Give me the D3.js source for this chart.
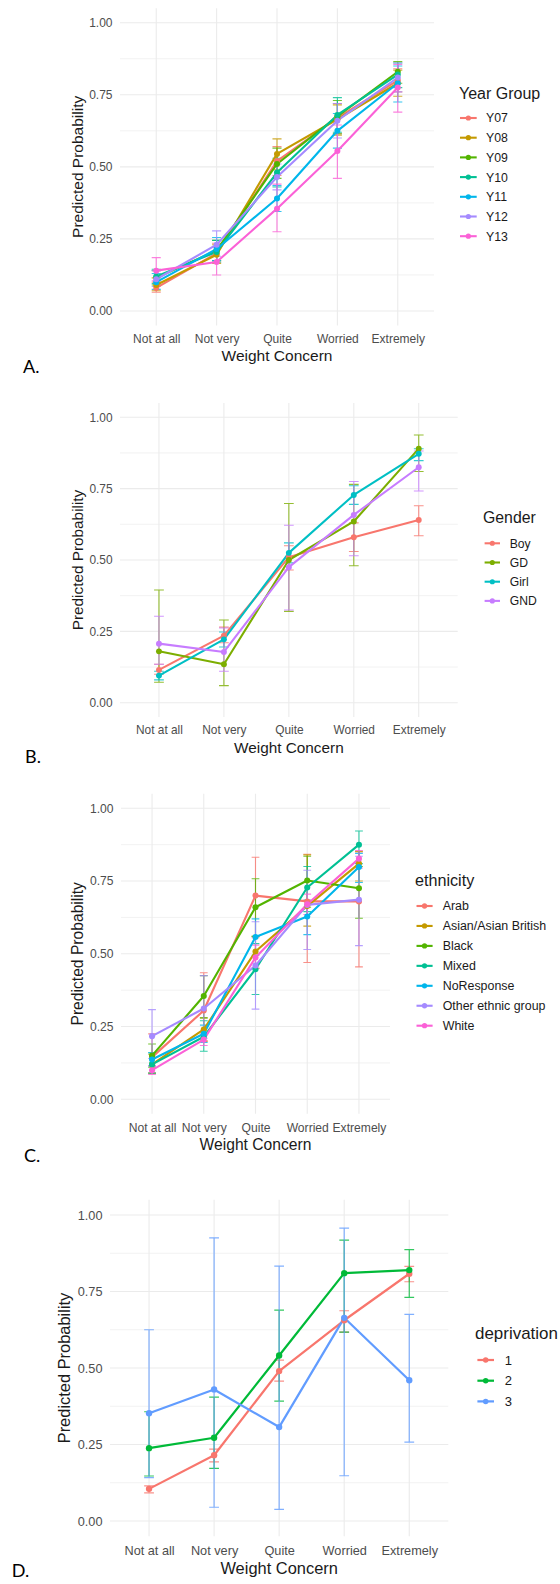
<!DOCTYPE html>
<html lang="en">
<head>
<meta charset="UTF-8">
<title>Predicted probability by weight concern</title>
<script src="https://cdn.jsdelivr.net/npm/d3@7"></script>
<style>
  html, body { margin: 0; padding: 0; background: #fff; }
  svg text { font-family: "Liberation Sans", Arial, sans-serif; }
  svg text.tick-label { fill: #4d4d4d; }
  svg text.tag { font-family: Lato, "Open Sans", sans-serif; }
</style>
</head>
<body>
<div id="chart"></div>
<script>
// categories on the x axis (shared by all four panels)
const concern = ["Not at all", "Not very", "Quite", "Worried", "Extremely"];
const yTicks = [0, 0.25, 0.5, 0.75, 1];
const yMinor = [0.125, 0.375, 0.625, 0.875];

// A. year group
const yearGroups = ["Y07", "Y08", "Y09", "Y10", "Y11", "Y12", "Y13"];
const yearColors = ["#F8766D", "#C49A00", "#53B400", "#00C094", "#00B6EB", "#A58AFF", "#FB61D7"];
const yearFit = [
  [0.08, 0.20, 0.52, 0.67, 0.80],
  [0.09, 0.195, 0.545, 0.665, 0.79],
  [0.115, 0.21, 0.51, 0.675, 0.83],
  [0.12, 0.205, 0.48, 0.68, 0.82],
  [0.10, 0.215, 0.39, 0.625, 0.79],
  [0.11, 0.23, 0.465, 0.66, 0.81],
  [0.14, 0.17, 0.355, 0.555, 0.775]
];
const yearLo = [
  [0.065, 0.17, 0.47, 0.615, 0.76],
  [0.07, 0.165, 0.49, 0.61, 0.745],
  [0.09, 0.175, 0.46, 0.615, 0.79],
  [0.095, 0.17, 0.43, 0.62, 0.775],
  [0.075, 0.175, 0.345, 0.565, 0.725],
  [0.085, 0.19, 0.42, 0.60, 0.76],
  [0.105, 0.125, 0.275, 0.46, 0.69]
];
const yearHi = [
  [0.10, 0.235, 0.57, 0.72, 0.84],
  [0.115, 0.23, 0.597, 0.715, 0.835],
  [0.14, 0.245, 0.565, 0.73, 0.865],
  [0.145, 0.245, 0.53, 0.74, 0.86],
  [0.13, 0.255, 0.435, 0.685, 0.85],
  [0.14, 0.278, 0.51, 0.72, 0.86],
  [0.185, 0.22, 0.44, 0.645, 0.855]
];

// B. gender
const genders = ["Boy", "GD", "Girl", "GND"];
const genderColors = ["#F8766D", "#7CAE00", "#00BFC4", "#C77CFF"];
const genderFit = [
  [0.115, 0.235, 0.51, 0.58, 0.64],
  [0.18, 0.135, 0.50, 0.635, 0.89],
  [0.095, 0.222, 0.525, 0.728, 0.872],
  [0.207, 0.178, 0.475, 0.658, 0.825]
];
const genderLo = [
  [0.10, 0.21, 0.465, 0.53, 0.585],
  [0.072, 0.06, 0.32, 0.48, 0.81],
  [0.08, 0.195, 0.49, 0.695, 0.848],
  [0.135, 0.11, 0.325, 0.515, 0.742]
];
const genderHi = [
  [0.135, 0.265, 0.55, 0.63, 0.69],
  [0.395, 0.29, 0.698, 0.765, 0.938],
  [0.11, 0.248, 0.56, 0.76, 0.89],
  [0.303, 0.262, 0.622, 0.775, 0.882]
];

// C. ethnicity
const ethnicities = ["Arab", "Asian/Asian British", "Black", "Mixed", "NoResponse", "Other ethnic group", "White"];
const ethColors = ["#F8766D", "#C49A00", "#53B400", "#00C094", "#00B6EB", "#A58AFF", "#FB61D7"];
const ethFit = [
  [0.145, 0.305, 0.70, 0.68, 0.68],
  [0.12, 0.24, 0.508, 0.664, 0.81],
  [0.15, 0.355, 0.66, 0.752, 0.725],
  [0.12, 0.215, 0.447, 0.728, 0.875],
  [0.137, 0.225, 0.558, 0.628, 0.798],
  [0.217, 0.312, 0.46, 0.668, 0.686],
  [0.10, 0.205, 0.487, 0.67, 0.827]
];
const ethLo = [
  [0.09, 0.20, 0.555, 0.47, 0.455],
  [0.09, 0.20, 0.45, 0.595, 0.75],
  [0.11, 0.28, 0.56, 0.66, 0.622],
  [0.09, 0.165, 0.36, 0.645, 0.81],
  [0.115, 0.195, 0.495, 0.566, 0.745],
  [0.14, 0.21, 0.31, 0.515, 0.528],
  [0.085, 0.185, 0.45, 0.635, 0.795]
];
const ethHi = [
  [0.225, 0.435, 0.832, 0.842, 0.85],
  [0.155, 0.28, 0.56, 0.84, 0.852],
  [0.19, 0.425, 0.758, 0.835, 0.80],
  [0.16, 0.27, 0.535, 0.80, 0.922],
  [0.16, 0.255, 0.62, 0.685, 0.845],
  [0.308, 0.425, 0.61, 0.787, 0.835],
  [0.115, 0.225, 0.53, 0.705, 0.855]
];

// D. deprivation
const deprivation = ["1", "2", "3"];
const depColors = ["#F8766D", "#00BA38", "#619CFF"];
const depFit = [
  [0.105, 0.215, 0.49, 0.656, 0.808],
  [0.238, 0.272, 0.541, 0.81, 0.82],
  [0.352, 0.43, 0.307, 0.664, 0.46]
];
const depLo = [
  [0.092, 0.193, 0.457, 0.617, 0.782],
  [0.147, 0.172, 0.392, 0.617, 0.731],
  [0.142, 0.045, 0.038, 0.148, 0.258]
];
const depHi = [
  [0.115, 0.235, 0.526, 0.687, 0.832],
  [0.357, 0.405, 0.689, 0.918, 0.887],
  [0.625, 0.925, 0.833, 0.957, 0.675]
];

const W = 560, H = 1584;
const svg = d3.select("#chart").append("svg")
  .attr("width", W).attr("height", H)
  .attr("viewBox", `0 0 ${W} ${H}`)
  .style("display", "block");

svg.append("rect").attr("width", W).attr("height", H).attr("fill", "#fff");

const panels = [
  { tag: "A.", legendTitle: "Year Group", groups: yearGroups, colors: yearColors, fit: yearFit, lo: yearLo, hi: yearHi,
    x0: 120, x1: 434, top: 8.3, bot: 325.4, s: 1, yTitleX: 83,
    legX: 459, legTitleY: 98.5, legY0: 118, legDy: 19.7, keyX0: 460, keyX1: 476.7, labX: 486, tagX: 23, tagY: 373 },
  { tag: "B.", legendTitle: "Gender", groups: genders, colors: genderColors, fit: genderFit, lo: genderLo, hi: genderHi,
    x0: 120, x1: 457.7, top: 403, bot: 717, s: 0.99, yTitleX: 83,
    legX: 483, legTitleY: 523, legY0: 543.3, legDy: 19.2, keyX0: 484.6, keyX1: 500, labX: 509.7, tagX: 25, tagY: 763 },
  { tag: "C.", legendTitle: "ethnicity", groups: ethnicities, colors: ethColors, fit: ethFit, lo: ethLo, hi: ethHi,
    x0: 121, x1: 390, top: 793.75, bot: 1113.85, s: 1.01, yTitleX: 83,
    legX: 415, legTitleY: 885.5, legY0: 906, legDy: 19.95, keyX0: 416.5, keyX1: 432.6, labX: 442.7, tagX: 24, tagY: 1161.5 },
  { tag: "D.", legendTitle: "deprivation", groups: deprivation, colors: depColors, fit: depFit, lo: depLo, hi: depHi,
    x0: 110, x1: 448.3, top: 1199.7, bot: 1536.3, s: 1.06, yTitleX: 70,
    legX: 475, legTitleY: 1338.5, legY0: 1360, legDy: 20.7, keyX0: 477.4, keyX1: 494, labX: 504.7, tagX: 11.7, tagY: 1577 }
];

panels.forEach(function(p) {
  const s = p.s;
  const x = d3.scalePoint().domain(concern).range([p.x0, p.x1]).padding(0.6);
  const y = d3.scaleLinear().domain([-0.05, 1.05]).range([p.bot, p.top]);
  const g = svg.append("g");

  // grid
  g.append("g").selectAll("line").data(yMinor).enter().append("line")
    .attr("x1", p.x0).attr("x2", p.x1)
    .attr("y1", d => y(d)).attr("y2", d => y(d))
    .attr("stroke", "#efefef").attr("stroke-width", 0.8);
  g.append("g").selectAll("line").data(yTicks).enter().append("line")
    .attr("x1", p.x0).attr("x2", p.x1)
    .attr("y1", d => y(d)).attr("y2", d => y(d))
    .attr("stroke", "#ebebeb").attr("stroke-width", 1.1);
  g.append("g").selectAll("line").data(concern).enter().append("line")
    .attr("x1", d => x(d)).attr("x2", d => x(d))
    .attr("y1", p.top).attr("y2", p.bot)
    .attr("stroke", "#ebebeb").attr("stroke-width", 1.1);

  // axes
  const ya = g.append("g")
    .attr("transform", "translate(" + p.x0 + ",0)")
    .call(d3.axisLeft(y).tickValues(yTicks).tickFormat(d3.format(".2f")).tickSize(0).tickPadding(7.5))
    .attr("font-family", null).attr("font-size", null);
  ya.select(".domain").remove();
  ya.selectAll("text").attr("class", "tick-label").attr("font-size", 12 * s);

  const xa = g.append("g")
    .attr("transform", "translate(0," + p.bot + ")")
    .call(d3.axisBottom(x).tickSize(0).tickPadding(0))
    .attr("font-family", null).attr("font-size", null);
  xa.select(".domain").remove();
  xa.selectAll("text").attr("class", "tick-label")
    .attr("font-size", 12 * s).attr("dy", null).attr("y", 17.5 * s);

  g.append("text")
    .attr("x", (p.x0 + p.x1) / 2).attr("y", p.bot + 36 * s)
    .attr("text-anchor", "middle").attr("font-size", 15.5 * s).attr("fill", "#1a1a1a")
    .text("Weight Concern");

  g.append("text")
    .attr("transform", "translate(" + p.yTitleX + "," + ((p.top + p.bot) / 2) + ") rotate(-90)")
    .attr("text-anchor", "middle").attr("font-size", 15.5 * s).attr("fill", "#1a1a1a")
    .text("Predicted Probability");

  // series
  const rows = p.groups.map(function(name, i) {
    return { name: name, color: p.colors[i],
      pts: concern.map(function(c, j) { return { c: c, fit: p.fit[i][j], lo: p.lo[i][j], hi: p.hi[i][j] }; }) };
  });
  const cap = x.step() * 0.075;

  rows.forEach(function(r) {
    const eb = g.append("g").attr("stroke", r.color).attr("stroke-width", 1.1 * s)
      .attr("stroke-opacity", 0.8).attr("fill", "none");
    r.pts.forEach(function(d) {
      const cx = x(d.c);
      eb.append("path").attr("d",
        "M" + (cx - cap) + "," + y(d.hi) + "H" + (cx + cap) +
        "M" + cx + "," + y(d.hi) + "V" + y(d.lo) +
        "M" + (cx - cap) + "," + y(d.lo) + "H" + (cx + cap));
    });
  });

  const line = d3.line().x(d => x(d.c)).y(d => y(d.fit));
  rows.forEach(function(r) {
    g.append("path").datum(r.pts).attr("d", line)
      .attr("fill", "none").attr("stroke", r.color).attr("stroke-width", 2.1 * s)
      .attr("stroke-linejoin", "round");
  });
  rows.forEach(function(r) {
    g.append("g").selectAll("circle").data(r.pts).enter().append("circle")
      .attr("cx", d => x(d.c)).attr("cy", d => y(d.fit)).attr("r", 3 * s)
      .attr("fill", r.color);
  });

  // legend
  const lg = g.append("g");
  lg.append("text").attr("x", p.legX).attr("y", p.legTitleY)
    .attr("font-size", 16 * s).attr("fill", "#1a1a1a").text(p.legendTitle);
  rows.forEach(function(r, i) {
    const ly = p.legY0 + i * p.legDy;
    lg.append("line").attr("x1", p.keyX0).attr("x2", p.keyX1).attr("y1", ly).attr("y2", ly)
      .attr("stroke", r.color).attr("stroke-width", 2.1 * s);
    lg.append("circle").attr("cx", (p.keyX0 + p.keyX1) / 2).attr("cy", ly).attr("r", 2.6 * s)
      .attr("fill", r.color);
    lg.append("text").attr("x", p.labX).attr("y", ly + 4.4 * s)
      .attr("font-size", 12.3 * s).attr("fill", "#1a1a1a").text(r.name);
  });

  // panel tag
  svg.append("text").attr("class", "tag")
    .attr("x", p.tagX).attr("y", p.tagY)
    .attr("font-size", 18).attr("fill", "#000").text(p.tag);
});
</script>
</body>
</html>
